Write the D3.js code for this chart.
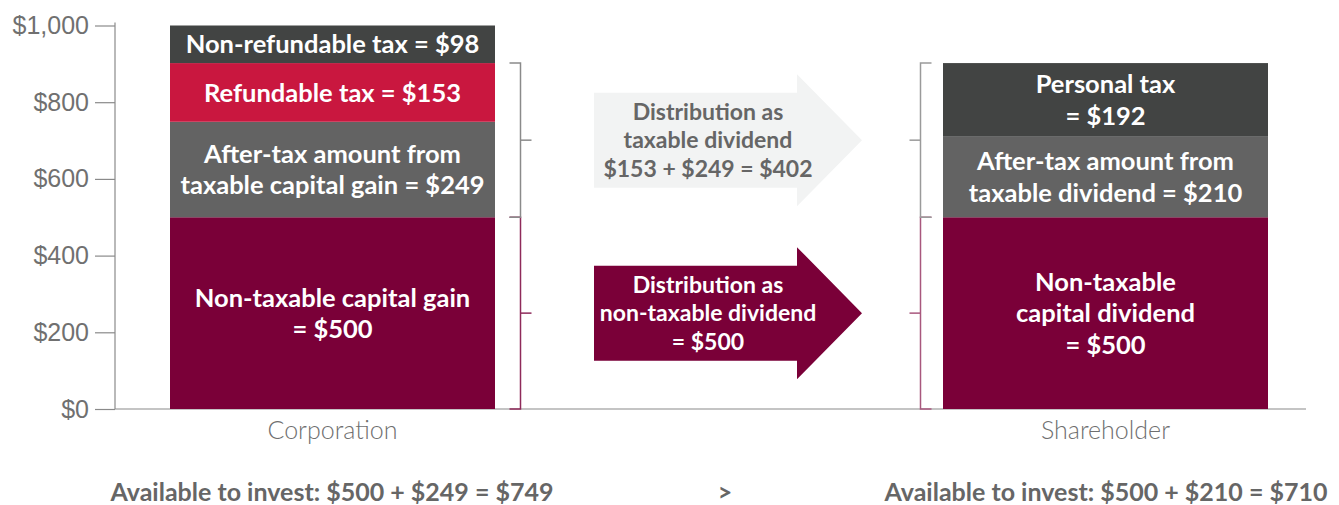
<!DOCTYPE html>
<html>
<head>
<meta charset="utf-8">
<script src="https://cdn.jsdelivr.net/npm/d3@7"></script>
<style>
  body { margin: 0; background: #fff; }
  svg { display: block; font-family: Lato, "Open Sans", sans-serif; }
</style>
</head>
<body>
<svg id="chart" width="1339" height="505"></svg>
<script>
// entities on the x axis
const categories = ["Corporation", "Shareholder"];

// stacked segments, bottom to top
const corpValues = [500, 249, 153, 98];
const corpLabels = [
  ["Non-taxable capital gain", "= $500"],
  ["After-tax amount from", "taxable capital gain = $249"],
  ["Refundable tax = $153"],
  ["Non-refundable tax = $98"]
];
const holderValues = [500, 210, 192];
const holderLabels = [
  ["Non-taxable", "capital dividend", "= $500"],
  ["After-tax amount from", "taxable dividend = $210"],
  ["Personal tax", "= $192"]
];
const segColors = ["#7a0038", "#636363", "#c9173f", "#424443"];
const holderColors = ["#7a0038", "#636363", "#424443"];

const yTicks = [0, 200, 400, 600, 800, 1000];

const arrowText = [
  ["Distribution as", "taxable dividend", "$153 + $249 = $402"],
  ["Distribution as", "non-taxable dividend", "= $500"]
];
const footer = ["Available to invest: $500 + $249 = $749", ">", "Available to invest: $500 + $210 = $710"];

const svg = d3.select("#chart");

const y = d3.scaleLinear().domain([0, 1000]).range([409, 25.5]);
const x = d3.scaleOrdinal().domain(categories).range([170, 943]);
const barW = 325;

// y axis
const axis = svg.append("g")
  .attr("transform", "translate(115,0)")
  .call(d3.axisLeft(y).tickValues(yTicks).tickSize(20).tickPadding(6)
    .tickFormat(d => "$" + d3.format(",")(d)));
axis.select(".domain").attr("stroke", "#8a8a8a").attr("stroke-width", 1.2)
  .attr("d", `M0,${y(1000) - 3}V${y(0)}`);
axis.selectAll(".tick line").attr("stroke", "#8a8a8a").attr("stroke-width", 1.2);
axis.selectAll(".tick text")
  .attr("fill", "#707070")
  .style("font-size", "25px")
  .style("font-weight", 300);

// baseline
svg.append("line")
  .attr("x1", 115).attr("x2", 1306)
  .attr("y1", y(0)).attr("y2", y(0))
  .attr("stroke", "#8a8a8a").attr("stroke-width", 1.2);

function stackBar(cat, values, labels, colors) {
  let base = 0;
  const g = svg.append("g");
  values.forEach((v, i) => {
    const y0 = base, y1 = base + v;
    base = y1;
    g.append("rect")
      .attr("x", x(cat)).attr("width", barW)
      .attr("y", y(y1)).attr("height", y(y0) - y(y1))
      .attr("fill", colors[i]);
    const lines = labels[i];
    const mid = y((y0 + y1) / 2);
    const lh = 31.5;
    lines.forEach((t, j) => {
      g.append("text")
        .attr("x", x(cat) + barW / 2)
        .attr("y", mid + (j - (lines.length - 1) / 2) * lh)
        .attr("dy", "0.36em")
        .attr("text-anchor", "middle")
        .attr("fill", "#fff")
        .style("font-size", "25.5px")
        .style("font-weight", 700)
        .text(t);
    });
  });
}
stackBar(categories[0], corpValues, corpLabels, segColors);
stackBar(categories[1], holderValues, holderLabels, holderColors);

// category labels
categories.forEach(c => {
  svg.append("text")
    .attr("x", x(c) + barW / 2).attr("y", 439)
    .attr("text-anchor", "middle")
    .attr("fill", "#6f6f6f")
    .style("font-size", "25px").style("font-weight", 300)
    .text(c);
});

// brackets
const corpTop = d3.sum(corpValues);
const holderTop = d3.sum(holderValues);
function bracket(bx, v0, v1, dir, color) {
  const a = y(v1), b = y(v0);
  const s = 11;
  svg.append("path")
    .attr("d", `M${bx - dir * s},${a}H${bx}V${b}H${bx - dir * s}`)
    .attr("fill", "none").attr("stroke", color).attr("stroke-width", 1.5);
  svg.append("line")
    .attr("x1", bx).attr("x2", bx + dir * s)
    .attr("y1", (a + b) / 2).attr("y2", (a + b) / 2)
    .attr("stroke", color).attr("stroke-width", 1.5);
}
bracket(520.5, 0, corpValues[0], 1, "#8e2a5a");
bracket(520.5, corpValues[0], corpTop - corpValues[3], 1, "#8a8a8a");
bracket(920.5, 0, holderValues[0], -1, "#a8577d");
bracket(920.5, holderValues[0], holderTop, -1, "#9a9a9a");

// arrows
function arrow(mid, fill, textColor, lines) {
  const cy = y(mid);
  const x0 = 594, x1 = 797, x2 = 862;
  const hb = 47.5, hh = 66;
  svg.append("path")
    .attr("d", `M${x0},${cy - hb}H${x1}V${cy - hh}L${x2},${cy}L${x1},${cy + hh}V${cy + hb}H${x0}Z`)
    .attr("fill", fill);
  lines.forEach((t, j) => {
    svg.append("text")
      .attr("x", 708)
      .attr("y", cy + (j - 1) * 28.5)
      .attr("dy", "0.36em")
      .attr("text-anchor", "middle")
      .attr("fill", textColor)
      .style("font-size", "23px").style("font-weight", 700)
      .text(t);
  });
}
arrow((corpValues[0] + corpTop - corpValues[3]) / 2, "#f2f3f3", "#666", arrowText[0]);
arrow(corpValues[0] / 2, "#7a0038", "#fff", arrowText[1]);

// footer
const fx = [332, 725, 1106];
footer.forEach((t, i) => {
  svg.append("text")
    .attr("x", fx[i]).attr("y", 501)
    .attr("text-anchor", "middle")
    .attr("fill", "#666")
    .style("font-size", "25px").style("font-weight", 700)
    .text(t);
});
</script>
</body>
</html>
